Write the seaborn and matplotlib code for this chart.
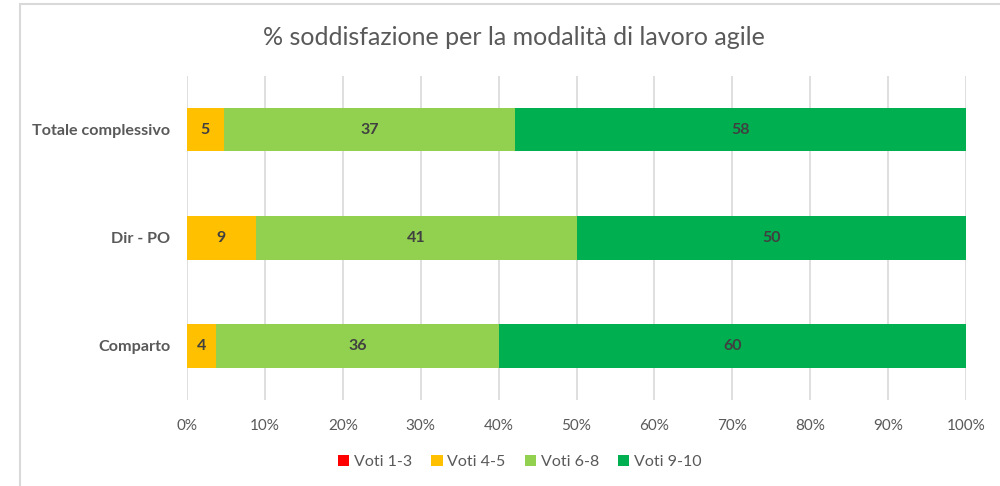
import numpy as np
import pandas as pd
import seaborn as sns
import matplotlib
matplotlib.use("Agg")
import matplotlib.pyplot as plt
from matplotlib.patches import Patch
from matplotlib.lines import Line2D

categories = ["Totale complessivo", "Dir - PO", "Comparto"]
series = ["Voti 1-3", "Voti 4-5", "Voti 6-8", "Voti 9-10"]
voti_1_3 = [0.0, 0.0, 0.0]
voti_4_5 = [4.7, 8.8, 3.7]
voti_6_8 = [37.4, 41.2, 36.4]
voti_9_10 = [57.9, 50.0, 59.9]
colors = ["#FF0000", "#FFC000", "#92D050", "#00B050"]
xticks = [0, 10, 20, 30, 40, 50, 60, 70, 80, 90, 100]

sns.set_theme(style="white")
plt.rcParams['font.family'] = ['Lato', 'DejaVu Sans']

fig = plt.figure(figsize=(10, 4.86), dpi=100)
ax = fig.add_axes([0.187, 0.177, 0.779, 0.667])

vals = [voti_1_3, voti_4_5, voti_6_8, voti_9_10]
cum = np.cumsum(np.array(vals), axis=0)

for i in range(len(series) - 1, -1, -1):
    df = pd.DataFrame({"cat": categories, "val": cum[i]})
    sns.barplot(data=df, x="val", y="cat", orient="h", color=colors[i],
                width=0.4, saturation=1, ax=ax, zorder=2, linewidth=0)

for i in range(len(series)):
    for j, c in enumerate(categories):
        v = vals[i][j]
        if v <= 0:
            continue
        start = cum[i][j] - v
        ax.text(start + v / 2, j, f"{v:.0f}", ha="center", va="center",
                fontsize=11.5, fontweight="bold", color="#404040", zorder=3)

ax.set_xlim(0, 100)
ax.set_ylim(2.5, -0.5)
ax.set_xticks(xticks)
ax.set_xticklabels([f"{t}%" for t in xticks], color="#595959", fontsize=11)
ax.tick_params(axis="x", length=0, pad=14)
ax.tick_params(axis="y", length=0, pad=12)
for lbl in ax.get_yticklabels():
    lbl.set_fontweight("bold")
    lbl.set_color("#595959")
    lbl.set_fontsize(11.6)
ax.set_xlabel("")
ax.set_ylabel("")
ax.grid(axis="x", color="#D9D9D9", linewidth=1.2, zorder=0)
ax.set_axisbelow(True)
for s in ax.spines.values():
    s.set_visible(False)

fig.text(0.514, 0.922, "% soddisfazione per la modalità di lavoro agile",
         ha="center", va="center", fontsize=18, color="#595959")

handles = [Patch(facecolor=c, edgecolor="none") for c in colors]
fig.legend(handles, series, loc="center", bbox_to_anchor=(0.52, 0.05),
           ncol=4, frameon=False, fontsize=11.5, handlelength=0.7, handleheight=0.7,
           handletextpad=0.3, columnspacing=1.2, labelcolor="#595959")

fig.add_artist(Line2D([0.02, 1.0], [0.992, 0.992], color="#D9D9D9", linewidth=1.5, transform=fig.transFigure))
fig.add_artist(Line2D([0.02, 0.02], [0.0, 0.992], color="#D9D9D9", linewidth=1.5, transform=fig.transFigure))

fig.savefig("out.png", dpi=100, facecolor="white")
